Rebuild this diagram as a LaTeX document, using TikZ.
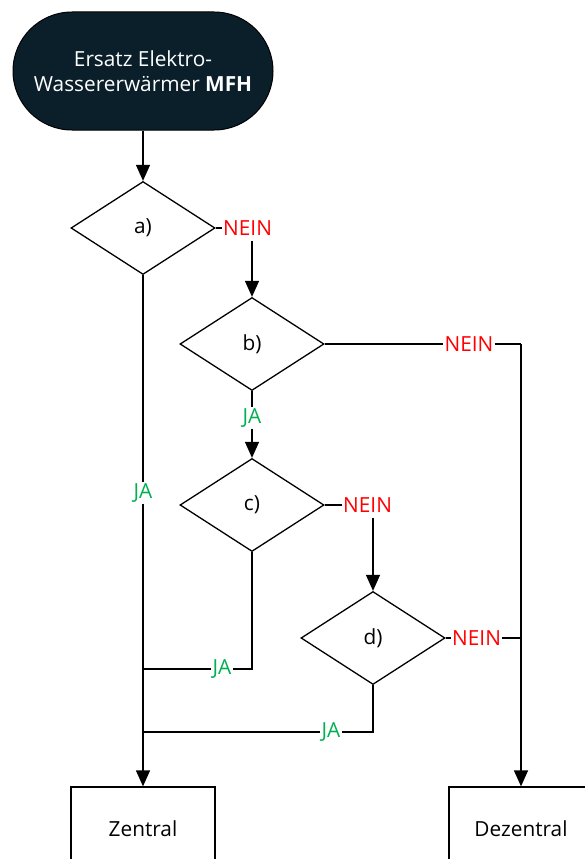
\documentclass[tikz,border=0pt]{standalone}
\usepackage{fontspec}
\setmainfont{Open Sans}
\usetikzlibrary{shapes.geometric,arrows.meta}
\definecolor{navy}{RGB}{11,31,43}
\definecolor{neinred}{RGB}{255,0,0}
\definecolor{jagreen}{RGB}{0,176,80}
\begin{document}
\begin{tikzpicture}[x=1pt,y=-1pt,
  every node/.style={font=\fontsize{20.8}{25}\selectfont},
  line/.style={line width=1.3pt},
  arr/.style={line width=1.3pt,-{Triangle[width=14pt,length=16pt]}},
  dec/.style={diamond,draw,line width=1.3pt,minimum width=144pt,minimum height=93pt,inner sep=0pt,aspect=1.55},
  term/.style={rectangle,rounded corners=59pt,fill=navy,draw=black,line width=1pt,text=white,minimum width=260pt,minimum height=118pt,align=center},
  outbox/.style={rectangle,draw,line width=1.3pt,minimum width=144pt,minimum height=84pt},
  nein/.style={text=neinred,inner xsep=1pt,inner ysep=1pt},
  ja/.style={text=jagreen,inner xsep=1pt,inner ysep=1pt}]
\useasboundingbox (0,0) rectangle (585,859);
\clip (0,0) rectangle (585,859);

\node[term] (start) at (143,71) {Ersatz Elektro-\\Wassererwärmer \textbf{MFH}};
\node[dec] (a) at (143,228) {a)};
\node[dec] (b) at (252,344) {b)};
\node[dec] (c) at (252,505) {c)};
\node[dec] (d) at (373,638) {d)};
\node[outbox] (zen) at (143,829) {Zentral};
\node[outbox] (dez) at (521,829) {Dezentral};

% labels
\node[nein,anchor=west] (na) at (222,228) {NEIN};
\node[nein] (nb) at (469,344) {NEIN};
\node[nein,anchor=west] (nc) at (342,505) {NEIN};
\node[nein,anchor=west] (nd) at (451,638) {NEIN};
\node[ja] (jb) at (252,418) {JA};
\node[ja] (ja) at (143,493) {JA};
\node[ja] (jc) at (222,669) {JA};
\node[ja] (jd) at (331,732) {JA};

\coordinate (j1) at (521,344);
\coordinate (cj) at (252,669);
\coordinate (dj) at (373,732);
\coordinate (lc) at (143,669);
\coordinate (ld) at (143,732);

\draw[arr] (start) -- (a.north);
% a
\draw[line] (a.east) -- (na.west);
\draw[arr] ([yshift=-4pt]na.south -| b.north) -- (b.north);
\draw[line] (a.south) -- (ja.north);
\draw[arr] (ja.south) -- (zen.north);
% b
\draw[line] (b.east) -- (nb.west);
\draw[line] (nb.east) -- (j1);
\draw[arr] (j1) -- (dez.north);
\draw[line] (b.south) -- (jb.north);
\draw[arr] (jb.south) -- (c.north);
% c
\draw[line] (c.east) -- (nc.west);
\draw[arr] ([yshift=-4pt]nc.south -| d.north) -- (d.north);
\draw[line] (c.south) -- (cj) -- (jc.east);
\draw[line] (jc.west) -- (lc);
% d
\draw[line] (d.east) -- (nd.west);
\draw[line] (nd.east) -- (nd.east -| j1);
\draw[line] (d.south) -- (dj) -- (jd.east);
\draw[line] (jd.west) -- (ld);
\end{tikzpicture}
\end{document}
